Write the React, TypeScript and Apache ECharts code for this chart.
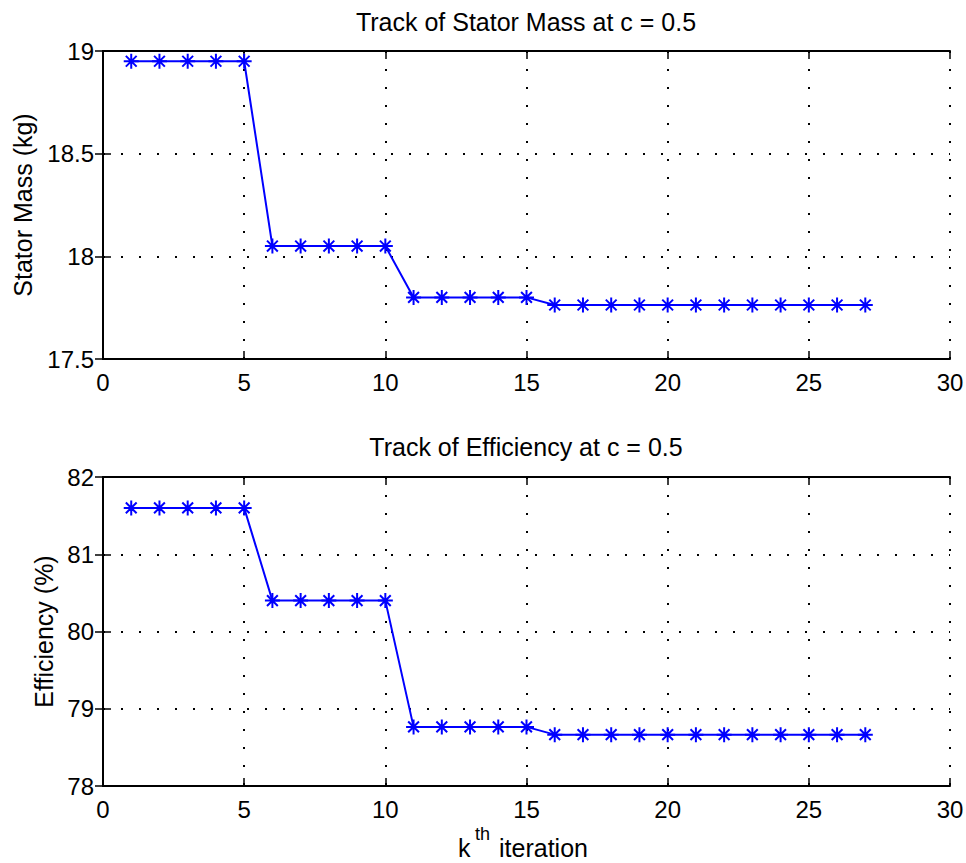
import React, { useEffect, useRef } from "react";
import * as echarts from "echarts";

const iterations = [1, 2, 3, 4, 5, 6, 7, 8, 9, 10, 11, 12, 13, 14, 15, 16, 17, 18, 19, 20, 21, 22, 23, 24, 25, 26, 27];
const statorMass = [
  18.95, 18.95, 18.95, 18.95, 18.95,
  18.05, 18.05, 18.05, 18.05, 18.05,
  17.8, 17.8, 17.8, 17.8, 17.8,
  17.763, 17.763, 17.763, 17.763, 17.763, 17.763, 17.763, 17.763, 17.763, 17.763, 17.763, 17.763,
];
const efficiency = [
  81.6, 81.6, 81.6, 81.6, 81.6,
  80.4, 80.4, 80.4, 80.4, 80.4,
  78.765, 78.765, 78.765, 78.765, 78.765,
  78.665, 78.665, 78.665, 78.665, 78.665, 78.665, 78.665, 78.665, 78.665, 78.665, 78.665, 78.665,
];
const titleTop = "Track of Stator Mass at c = 0.5";
const titleBottom = "Track of Efficiency at c = 0.5";
const yNameTop = "Stator Mass (kg)";
const yNameBottom = "Efficiency (%)";
const xNameBase = "k";
const xNameSup = "th";
const xNameRest = "iteration";
const xRange = { min: 0, max: 30, interval: 5 };
const yRangeTop = { min: 17.5, max: 19, interval: 0.5 };
const yRangeBottom = { min: 78, max: 82, interval: 1 };

const FONT = "'Liberation Sans', Arial, Helvetica, sans-serif";
const ASTERISK = "path://M0,-1L0,1M-1,0L1,0M-0.72,-0.72L0.72,0.72M-0.72,0.72L0.72,-0.72";

export default function App() {
  const ref = useRef<HTMLDivElement>(null);
  useEffect(() => {
    if (!ref.current) return;
    const chart = echarts.init(ref.current, undefined, { renderer: "svg" });
    const axisLine = { show: true, lineStyle: { color: "#000", width: 2 } };
    const tick = { show: true, inside: true, length: 8, lineStyle: { color: "#000", width: 1.5 } };
    const split = { show: true, lineStyle: { color: "#000", width: 2, type: [2, 16] as any } };
    const label = { color: "#000", fontSize: 24, fontFamily: FONT };

    const makeX = (gridIndex: number, top: boolean) => ({
      type: "value",
      gridIndex,
      position: top ? "top" : "bottom",
      ...xRange,
      axisLine,
      axisTick: tick,
      axisLabel: top ? { show: false } : { ...label, margin: 11 },
      splitLine: top ? { show: false } : split,
    });
    const makeY = (gridIndex: number, right: boolean, range: any, name?: string, gap?: number) => ({
      type: "value",
      gridIndex,
      position: right ? "right" : "left",
      ...range,
      axisLine,
      axisTick: tick,
      axisLabel: right ? { show: false } : { ...label, margin: 9 },
      splitLine: right ? { show: false } : split,
      ...(name
        ? {
            name,
            nameLocation: "middle",
            nameGap: gap,
            nameTextStyle: { color: "#000", fontSize: 25, fontFamily: FONT },
          }
        : {}),
    });

    const toPairs = (ys: number[]) => iterations.map((x, i) => [x, ys[i]]);
    const seriesStyle = {
      type: "line",
      symbol: ASTERISK,
      symbolSize: 15,
      showSymbol: true,
      lineStyle: { color: "#0000ff", width: 2 },
      itemStyle: { color: "none", borderColor: "#0000ff", borderWidth: 2 },
      emphasis: { disabled: true },
    };
    const txt = (text: string, x: number, y: number, size: number) => ({
      type: "text",
      x,
      y,
      style: {
        text,
        fill: "#000",
        fontSize: size,
        fontFamily: FONT,
        textAlign: "left",
        textVerticalAlign: "middle",
        verticalAlign: "middle",
      },
    });

    chart.setOption({
      animation: false,
      backgroundColor: "#fff",
      title: [
        {
          text: titleTop,
          left: 526,
          top: 9,
          padding: 0,
          textAlign: "center",
          textStyle: { color: "#000", fontSize: 25, fontWeight: "normal", fontFamily: FONT },
        },
        {
          text: titleBottom,
          left: 526,
          top: 434,
          padding: 0,
          textAlign: "center",
          textStyle: { color: "#000", fontSize: 25, fontWeight: "normal", fontFamily: FONT },
        },
      ],
      grid: [
        { left: 103, top: 51, width: 847, height: 308, containLabel: false, outerBoundsMode: "none" },
        { left: 103, top: 477, width: 847, height: 309, containLabel: false, outerBoundsMode: "none" },
      ],
      xAxis: [makeX(0, false), makeX(0, true), makeX(1, false), makeX(1, true)],
      yAxis: [
        makeY(0, false, yRangeTop, yNameTop, 68),
        makeY(0, true, yRangeTop),
        makeY(1, false, yRangeBottom, yNameBottom, 46),
        makeY(1, true, yRangeBottom),
      ],
      graphic: [
        txt(xNameBase, 458, 848, 25),
        txt(xNameSup, 475, 834, 18),
        txt(xNameRest, 499, 848, 25),
      ],
      series: [
        { ...seriesStyle, xAxisIndex: 0, yAxisIndex: 0, data: toPairs(statorMass) },
        { ...seriesStyle, xAxisIndex: 2, yAxisIndex: 2, data: toPairs(efficiency) },
      ],
    });
    return () => chart.dispose();
  }, []);
  return (
    <div
      ref={ref}
      style={{ position: "fixed", left: 0, top: 0, width: 966, height: 863, background: "#fff" }}
    />
  );
}
